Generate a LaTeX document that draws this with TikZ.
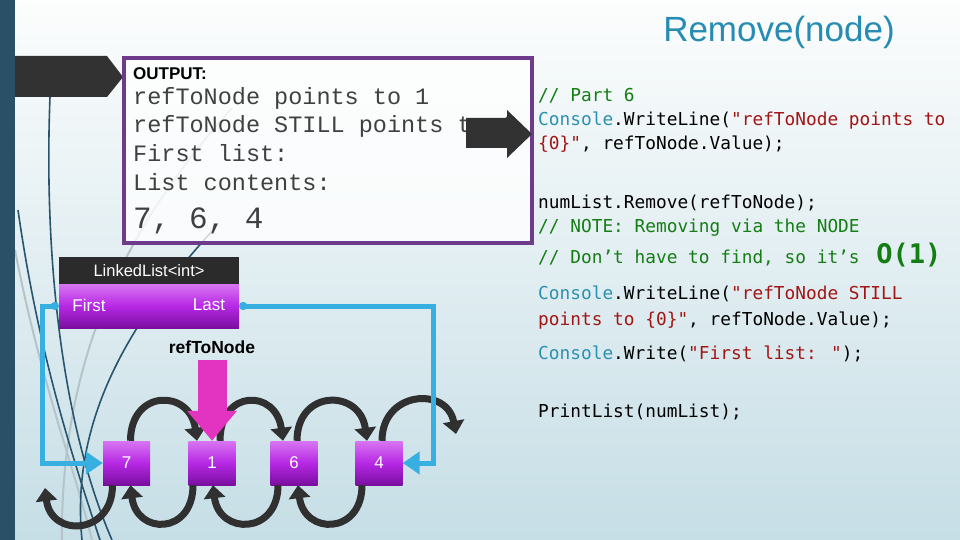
\documentclass[tikz,border=0pt]{standalone}
\usepackage{fontspec}
\setmainfont{Liberation Sans}
\newfontfamily\codefont{DejaVu Sans Mono}
\newfontfamily\outfont{Liberation Mono}
\usetikzlibrary{arrows.meta}
\definecolor{bgbot}{RGB}{198,222,230}
\definecolor{bartile}{RGB}{42,80,104}
\definecolor{darkshape}{RGB}{50,50,50}
\definecolor{boxpurple}{RGB}{110,58,140}
\definecolor{ptop}{RGB}{216,118,242}
\definecolor{pmid}{RGB}{182,40,228}
\definecolor{pbot}{RGB}{122,14,160}
\definecolor{ptrblue}{RGB}{55,175,225}
\definecolor{refpink}{RGB}{226,52,192}
\definecolor{linkgray}{RGB}{48,48,48}
\definecolor{cgreen}{RGB}{20,125,20}
\definecolor{cteal}{RGB}{43,145,175}
\definecolor{cred}{RGB}{163,21,21}
\definecolor{titleblue}{RGB}{38,140,180}
\definecolor{decodark}{RGB}{40,85,110}
\definecolor{decolight}{RGB}{180,196,202}
\tikzset{
  codeline/.style={anchor=base west, inner sep=0pt, font=\codefont\fontsize{17.8}{20}\selectfont},
  outline/.style={anchor=base west, inner sep=0pt, font=\outfont\fontsize{23.5}{26}\selectfont, text=black!75},
  purplegrad/.style={top color=ptop, bottom color=pbot, middle color=pmid},
  item/.style={purplegrad, minimum width=47pt, minimum height=44pt, inner sep=0pt, text=white, font=\fontsize{17}{20}\selectfont},
  link/.style={line width=7pt, draw=linkgray, -{Triangle[width=21pt,length=13pt]}},
  ptr/.style={line width=5pt, draw=ptrblue, {Circle[length=8pt,width=8pt]}-{Triangle[width=22pt,length=17pt]}},
  decod/.style={draw=decodark, line width=1.6pt},
  decol/.style={draw=decolight, line width=2pt},
}
\begin{document}
\begin{tikzpicture}[x=1pt,y=-1pt]
\useasboundingbox (0,0) rectangle (960,540);
\shade[top color={rgb,255:red,252;green,253;blue,253}, bottom color=bgbot] (0,0) rectangle (960,540);
% decorative swooshes
\draw[decol] (232,108) .. controls (150,200) and (60,330) .. (62,540);
\draw[decol] (15,250) .. controls (40,380) and (75,470) .. (92,540);
\draw[decod] (50,97) .. controls (44,250) and (60,420) .. (112,540);
\draw[decod] (18,210) .. controls (38,350) and (70,450) .. (100,540);
\draw[decod] (215,228) .. controls (130,320) and (70,420) .. (82,540);
% left dark arrow and bar
\fill[darkshape] (0,56) -- (107,56) -- (123,77) -- (107,97) -- (0,97) -- cycle;
\fill[bartile] (0,0) rectangle (15,540);
% title
\node[font=\fontsize{35}{40}\selectfont, text=titleblue] (title) at (779,32) {Remove(node)};
% output box
\draw[boxpurple, line width=4pt, fill=white, fill opacity=0.78] (124,58) rectangle (532,243);
\node[anchor=base west, inner sep=0pt, font=\bfseries\fontsize{17}{20}\selectfont] (o0) at (133,80) {OUTPUT:};
\node[outline] (o1) at (133,105) {refToNode points to 1};
\node[outline] (o2) at (133,133) {refToNode STILL points to 1};
\node[outline] (o3) at (133,162) {First list:};
\node[outline] (o4) at (133,190) {List contents:};
\node[outline, font=\outfont\fontsize{31}{34}\selectfont] (o5) at (133,228) {7, 6, 4};
\fill[darkshape] (466,118) -- (507,118) -- (507,110) -- (532,134) -- (507,158) -- (507,148) -- (466,148) -- cycle;
% code
\node[codeline, text=cgreen] (c1) at (538,102) {// Part 6};
\node[codeline] (c2) at (538,126) {\textcolor{cteal}{Console}.WriteLine(\textcolor{cred}{"refToNode points to}};
\node[codeline] (c3) at (538,150) {\textcolor{cred}{\{0\}"}, refToNode.Value);};
\node[codeline] (c4) at (538,208) {numList.Remove(refToNode);};
\node[codeline, text=cgreen] (c5) at (538,232) {// NOTE: Removing via the NODE};
\node[codeline, text=cgreen] (c6) at (538,263) {// Don’t have to find, so it’s \hspace{6pt}{\bfseries\fontsize{27}{29}\selectfont O(1)}};
\node[codeline] (c7) at (538,299) {\textcolor{cteal}{Console}.WriteLine(\textcolor{cred}{"refToNode STILL}};
\node[codeline] (c8) at (538,325) {\textcolor{cred}{points to \{0\}"}, refToNode.Value);};
\node[codeline] (c9) at (538,359) {\textcolor{cteal}{Console}.Write(\textcolor{cred}{"First list: "});};
\node[codeline] (c10) at (538,417) {PrintList(numList);};
% linked list object
\node[fill={rgb,255:red,43;green,43;blue,43}, minimum width=180pt, minimum height=27pt, inner sep=0pt, text=white, font=\fontsize{16.5}{18}\selectfont] (ll) at (149,270.5) {LinkedList<int>};
\node[purplegrad, minimum width=180pt, minimum height=44pt, inner sep=0pt] (llbody) at (149,306) {};
\node[text=white, font=\fontsize{17}{20}\selectfont] (first) at (89,305) {First};
\node[text=white, font=\fontsize{17}{20}\selectfont] (last) at (209,305) {Last};
% list nodes
\node[item] (n7) at (126.5,463) {7};
\node[item] (n1) at (212,463) {1};
\node[item] (n6) at (294,463) {6};
\node[item] (n4) at (379,463) {4};
\coordinate (nullR) at (456,434);
\coordinate (nullL) at (45,488);
% links above
\draw[link] ([xshift=4pt]n7.north) .. controls +(0,-52) and +(-7,-52) .. ([xshift=-15pt]n1.north);
\draw[link] ([xshift=8pt]n1.north) .. controls +(0,-52) and +(-7,-52) .. ([xshift=-11pt]n6.north);
\draw[link] ([xshift=3pt]n6.north) .. controls +(0,-52) and +(-7,-52) .. ([xshift=-12pt]n4.north);
\draw[link] ([xshift=3pt]n4.north) .. controls +(0,-50) and +(-9,-48) .. (nullR);
% links below
\draw[link] ([xshift=-19pt]n1.south) .. controls +(0,50) and +(6,50) .. ([xshift=4pt]n7.south);
\draw[link] ([xshift=-16pt]n6.south) .. controls +(0,50) and +(6,50) .. ([xshift=1pt]n1.south);
\draw[link] ([xshift=-17pt]n4.south) .. controls +(0,50) and +(6,50) .. ([xshift=4pt]n6.south);
\draw[link] ([xshift=-14pt]n7.south) .. controls +(0,50) and +(6,50) .. (nullL);
% First / Last pointers
\coordinate (rc) at (433,463);
\coordinate (lc) at (42,463);
\draw[ptr] (llbody.east) -| (rc) -- (n4);
\draw[ptr] (llbody.west) -| (lc) -- (n7);
% refToNode
\node[font=\bfseries\fontsize{17.5}{20}\selectfont] (ref) at (212,347) {refToNode};
\draw[line width=29pt, draw=refpink, -{Triangle[width=48pt,length=30pt]}] ([yshift=-3pt]ref.south) -- (n1.north);
\end{tikzpicture}
\end{document}
